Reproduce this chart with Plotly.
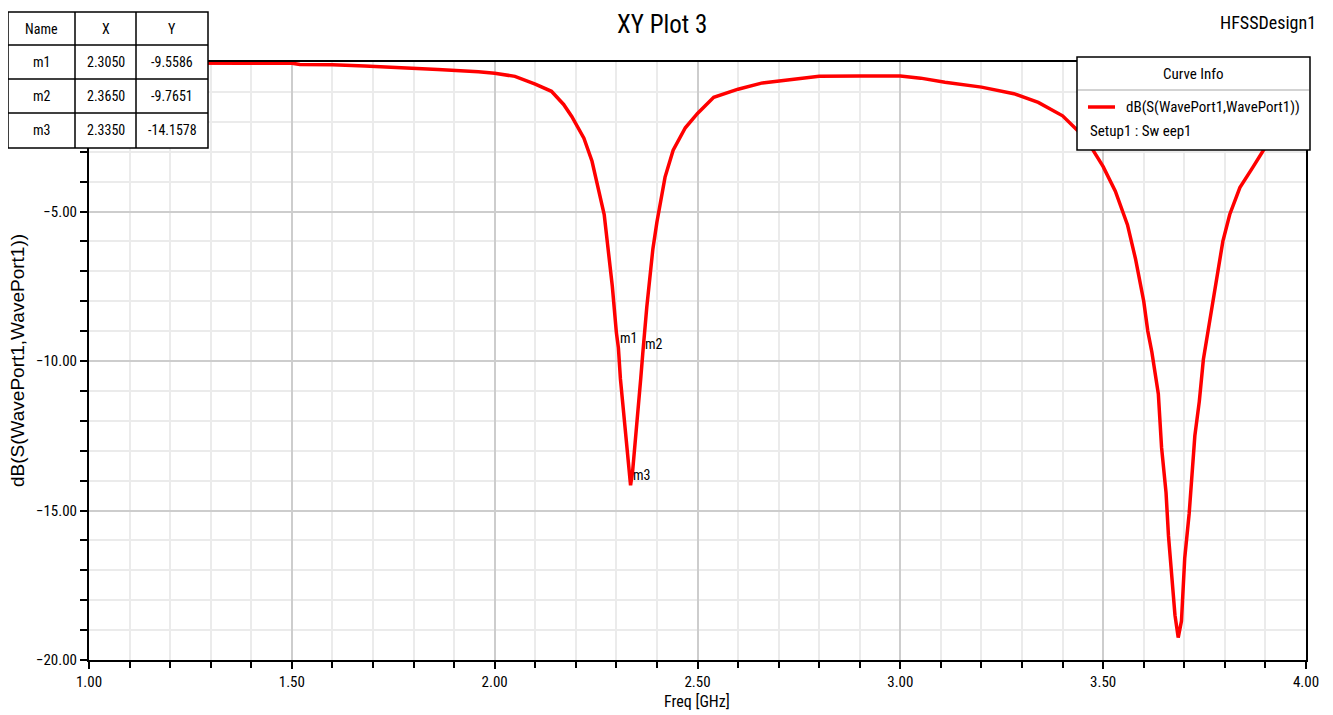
import plotly.graph_objects as go

# ---------------- data ----------------
freq_ghz = [1.00, 1.10, 1.20, 1.30, 1.40, 1.50, 1.52, 1.60, 1.68, 1.78, 1.86, 1.96, 2.00, 2.05,
            2.10, 2.14, 2.17, 2.19, 2.21, 2.22, 2.24, 2.25, 2.27, 2.28, 2.29, 2.30, 2.305, 2.31,
            2.32, 2.33, 2.335, 2.34, 2.35, 2.36, 2.365, 2.375, 2.39, 2.40, 2.42, 2.44, 2.47, 2.50,
            2.54, 2.60, 2.66, 2.73, 2.80, 2.90, 3.00, 3.05, 3.11, 3.20, 3.28, 3.34, 3.40, 3.44,
            3.47, 3.50, 3.53, 3.56, 3.58, 3.60, 3.61, 3.62, 3.636, 3.644, 3.655, 3.661, 3.669,
            3.677, 3.685, 3.693, 3.701, 3.712, 3.726, 3.737, 3.747, 3.763, 3.78, 3.795, 3.812,
            3.837, 3.87, 3.895, 3.93, 3.96, 4.00]
s11_db = [-0.03, -0.03, -0.03, -0.03, -0.03, -0.04, -0.08, -0.09, -0.13, -0.19, -0.25, -0.33, -0.38, -0.48,
          -0.74, -0.98, -1.42, -1.82, -2.30, -2.55, -3.32, -3.95, -5.10, -6.30, -7.50, -9.05, -9.5586, -10.6,
          -12.1, -13.6, -14.1578, -13.7, -12.3, -10.6, -9.7651, -8.20, -6.25, -5.35, -3.85, -2.95, -2.20, -1.72,
          -1.18, -0.91, -0.70, -0.58, -0.48, -0.47, -0.47, -0.54, -0.68, -0.84, -1.06, -1.35, -1.80, -2.33,
          -2.84, -3.50, -4.32, -5.45, -6.60, -8.00, -9.00, -9.70, -11.1, -12.9, -14.4, -15.85, -17.3,
          -18.5, -19.25, -18.7, -16.6, -15.1, -12.5, -11.35, -9.95, -8.60, -7.10, -6.00, -5.10,
          -4.20, -3.50, -2.95, -2.40, -2.00, -1.60]

marker_names = ["m1", "m2", "m3"]
marker_x = [2.3050, 2.3650, 2.3350]
marker_y = [-9.5586, -9.7651, -14.1578]

x_range = [1.0, 4.0]
y_range = [-20.0, 0.0]

trace_name = "dB(S(WavePort1,WavePort1))"
sweep_name = "Setup1 : Sw eep1"

# ---------------- layout geometry (screen pixels; page body has an 8px margin) ----------------
OFF = 8
W, H = 1333 - OFF, 715 - OFF
PLOT_X0, PLOT_X1, PLOT_Y0, PLOT_Y1 = 89, 1306, 62, 660   # plot area on screen
L = PLOT_X0 - OFF
T = PLOT_Y0 - OFF
R = W - (PLOT_X1 - OFF)
B = H - (PLOT_Y1 - OFF)
PW = PLOT_X1 - PLOT_X0
PH = PLOT_Y1 - PLOT_Y0


def xp(px):
    return (px - PLOT_X0) / PW


def yp(py):
    return (PLOT_Y1 - py) / PH


NARROW = "Liberation Sans Narrow, Arial Narrow, Roboto Condensed, Liberation Sans, sans-serif"
REG = "Liberation Sans, Arial, sans-serif"

fig = go.Figure()
fig.add_trace(go.Scatter(x=freq_ghz, y=s11_db, mode="lines",
                         line=dict(color="#ff0000", width=3.5),
                         name=trace_name, showlegend=False, hoverinfo="skip"))

axis_common = dict(
    showline=True, linecolor="black", linewidth=2, mirror=True,
    ticks="outside", ticklen=7, tickwidth=1.5, tickcolor="black",
    showgrid=True, gridcolor="#cdcdcd", gridwidth=1.5,
    zeroline=False, tickformat=".2f",
    tickfont=dict(family=NARROW, size=15, color="black"),
)

fig.update_layout(
    width=W, height=H,
    margin=dict(l=L, r=R, t=T, b=B, pad=0),
    paper_bgcolor="white", plot_bgcolor="white",
    showlegend=False,
    xaxis=dict(range=x_range, dtick=0.5, tick0=1.0,
               minor=dict(dtick=0.1, showgrid=True, gridcolor="#ebebeb", gridwidth=1.5,
                          ticks="outside", ticklen=6, tickwidth=1.5, tickcolor="black"),
               **axis_common),
    yaxis=dict(range=y_range, dtick=5, tick0=0,
               minor=dict(dtick=1, showgrid=True, gridcolor="#ebebeb", gridwidth=1.5,
                          ticks="outside", ticklen=7, tickwidth=1.5, tickcolor="black"),
               **axis_common),
)

shapes = []
annotations = []


def label(text, px, py, size, family=NARROW, xanchor="center", angle=0):
    annotations.append(dict(text=text, x=xp(px), y=yp(py), xref="paper", yref="paper",
                            xanchor=xanchor, yanchor="middle", textangle=angle,
                            showarrow=False, font=dict(family=family, size=size, color="black")))


# titles
label("XY Plot 3", 662, 25, 25)
label("HFSSDesign1", 1318, 22, 18, xanchor="right")
label("Freq [GHz]", 697, 701, 16)
label(trace_name, 17, 361, 19, family=REG, angle=-90)

# marker labels on the curve
for n, mx, my in zip(marker_names, marker_x, marker_y):
    annotations.append(dict(text=n, x=mx, y=my, xref="x", yref="y", xanchor="left", yanchor="bottom",
                            showarrow=False, font=dict(family=NARROW, size=14, color="black")))

# marker table
col_edges = [8, 75, 136, 208]
row_edges = [12, 45, 79, 113, 148]
shapes.append(dict(type="rect", xref="paper", yref="paper", x0=xp(col_edges[0]), x1=xp(col_edges[-1]),
                   y0=yp(row_edges[0]), y1=yp(row_edges[-1]),
                   fillcolor="white", line=dict(color="black", width=1.5), layer="above"))
for cx in col_edges[1:-1]:
    shapes.append(dict(type="line", xref="paper", yref="paper", x0=xp(cx), x1=xp(cx),
                       y0=yp(row_edges[0]), y1=yp(row_edges[-1]),
                       line=dict(color="black", width=1.5), layer="above"))
for ry in row_edges[1:-1]:
    shapes.append(dict(type="line", xref="paper", yref="paper", x0=xp(col_edges[0]), x1=xp(col_edges[-1]),
                       y0=yp(ry), y1=yp(ry), line=dict(color="black", width=1.5), layer="above"))

table_rows = [["Name", "X", "Y"]] + [[n, f"{mx:.4f}", f"{my:.4f}"]
                                     for n, mx, my in zip(marker_names, marker_x, marker_y)]
for ri, row in enumerate(table_rows):
    cy = (row_edges[ri] + row_edges[ri + 1]) / 2
    for ci, txt in enumerate(row):
        cx = (col_edges[ci] + col_edges[ci + 1]) / 2
        label(txt, cx, cy, 14)

# curve info box
shapes.append(dict(type="rect", xref="paper", yref="paper", x0=xp(1077), x1=xp(1310),
                   y0=yp(57), y1=yp(150), fillcolor="white",
                   line=dict(color="black", width=1.5), layer="above"))
shapes.append(dict(type="line", xref="paper", yref="paper", x0=xp(1078), x1=xp(1309),
                   y0=yp(90), y1=yp(90), line=dict(color="#c4c4c4", width=1.5), layer="above"))
shapes.append(dict(type="line", xref="paper", yref="paper", x0=xp(1088), x1=xp(1115),
                   y0=yp(107), y1=yp(107), line=dict(color="#ff0000", width=3.5), layer="above"))
label("Curve Info", 1193, 74, 15)
label(trace_name, 1124, 107, 15, xanchor="left")
label(sweep_name, 1088, 131, 15, xanchor="left")

fig.update_layout(shapes=shapes, annotations=annotations)

fig.write_html("out.html", config={"displayModeBar": False})
